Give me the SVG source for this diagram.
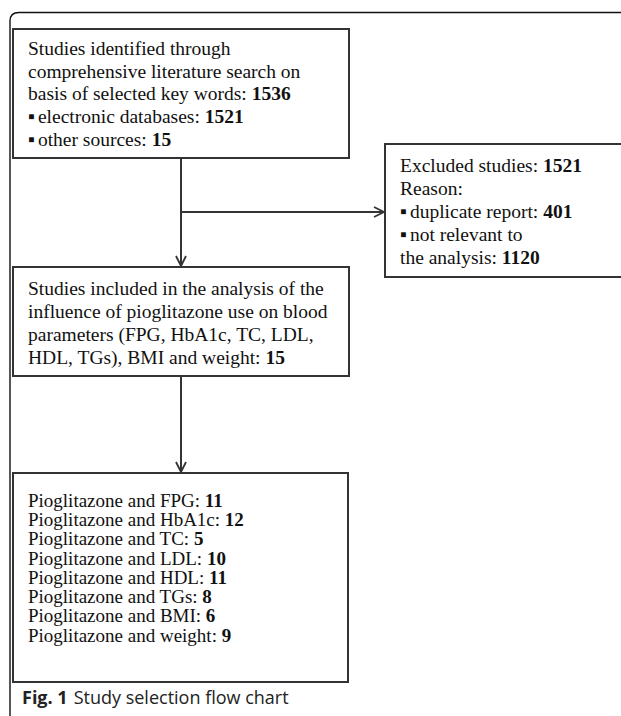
<svg xmlns="http://www.w3.org/2000/svg" width="621" height="716" viewBox="0 0 621 716">
<style>
.box{fill:#fff;stroke:#333;stroke-width:2}
.t{font-family:"Liberation Serif","Times New Roman",serif;font-size:19.5px;fill:#111}
.t3{font-family:"Liberation Serif","Times New Roman",serif;font-size:19px;fill:#111}
.b{font-weight:bold}
.c{fill:none;stroke:#333;stroke-width:2}
.cap{font-family:"Open Sans","Noto Sans",sans-serif;font-size:18px;fill:#222}
</style>
<defs>
<marker id="ah" markerWidth="12" markerHeight="12" viewBox="0 0 12 12" refX="11" refY="6" orient="auto" markerUnits="userSpaceOnUse">
<path d="M1,1 L11,6 L1,11" fill="none" stroke="#333" stroke-width="1.8"/>
</marker>
</defs>
<path d="M10,716 V21 Q10,12.5 19,12.5 H621" fill="none" stroke="#111" stroke-width="1.4"/>
<g id="connectors">
<path class="c" d="M181,158 V266" marker-end="url(#ah)"/>
<path class="c" d="M181,212 H384" marker-end="url(#ah)"/>
<path class="c" d="M181,376 V472" marker-end="url(#ah)"/>
</g>
<g id="identified">
<rect class="box" x="13" y="29" width="336" height="129"/>
<text class="t" x="28" y="55">Studies identified through</text>
<text class="t" x="28" y="78">comprehensive literature search on</text>
<text class="t" x="28" y="100">basis of selected key words: <tspan class="b">1536</tspan></text>
<text class="t" x="28" y="123">▪<tspan dx="3">electronic databases: </tspan><tspan class="b">1521</tspan></text>
<text class="t" x="28" y="146">▪<tspan dx="3">other sources: </tspan><tspan class="b">15</tspan></text>
</g>
<g id="excluded">
<rect class="box" x="385" y="144" width="240" height="133"/>
<text class="t" x="400" y="172">Excluded studies: <tspan class="b">1521</tspan></text>
<text class="t" x="400" y="195">Reason:</text>
<text class="t" x="400" y="218">▪<tspan dx="3">duplicate report: </tspan><tspan class="b">401</tspan></text>
<text class="t" x="400" y="241">▪<tspan dx="3">not relevant to</tspan></text>
<text class="t" x="400" y="264">the analysis: <tspan class="b">1120</tspan></text>
</g>
<g id="included">
<rect class="box" x="13" y="267" width="336" height="109"/>
<text class="t" x="28" y="295">Studies included in the analysis of the</text>
<text class="t" x="28" y="318">influence of pioglitazone use on blood</text>
<text class="t" x="28" y="341">parameters (FPG, HbA1c, TC, LDL,</text>
<text class="t" x="28" y="364">HDL, TGs), BMI and weight: <tspan class="b">15</tspan></text>
</g>
<g id="outcomes">
<rect class="box" x="13" y="473" width="335" height="209"/>
<text class="t3" x="28" y="507">Pioglitazone and FPG: <tspan class="b">11</tspan></text>
<text class="t3" x="28" y="526">Pioglitazone and HbA1c: <tspan class="b">12</tspan></text>
<text class="t3" x="28" y="545">Pioglitazone and TC: <tspan class="b">5</tspan></text>
<text class="t3" x="28" y="565">Pioglitazone and LDL: <tspan class="b">10</tspan></text>
<text class="t3" x="28" y="584">Pioglitazone and HDL: <tspan class="b">11</tspan></text>
<text class="t3" x="28" y="603">Pioglitazone and TGs: <tspan class="b">8</tspan></text>
<text class="t3" x="28" y="622">Pioglitazone and BMI: <tspan class="b">6</tspan></text>
<text class="t3" x="28" y="642">Pioglitazone and weight: <tspan class="b">9</tspan></text>
</g>
<text class="cap" x="22" y="704"><tspan font-weight="bold">Fig. 1</tspan><tspan dx="6">Study selection flow chart</tspan></text>
</svg>
